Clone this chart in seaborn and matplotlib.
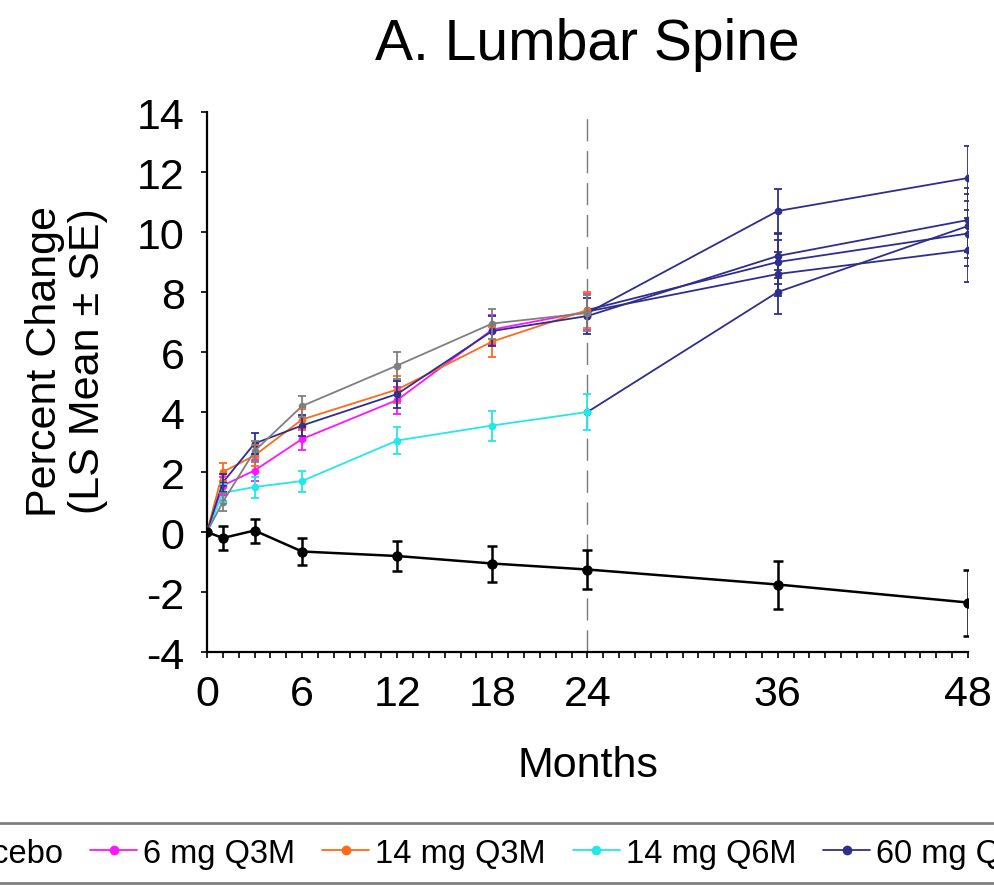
import matplotlib
matplotlib.use("Agg")
import matplotlib.pyplot as plt
from matplotlib.lines import Line2D
import numpy as np
import pandas as pd
import seaborn as sns

# ---- data: percent change in lumbar spine BMD (LS mean, SE) ----
placebo_months = [0, 1, 3, 6, 12, 18, 24, 36, 48]
placebo_mean = [0.0, -0.2, 0.05, -0.65, -0.8, -1.05, -1.25, -1.75, -2.35]
placebo_se = [0.0, 0.4, 0.4, 0.45, 0.5, 0.6, 0.65, 0.8, 1.1]

# first two years: original dose regimens
months_y2 = [0, 1, 3, 6, 12, 18, 24]
groups = ["6 mg Q3M", "14 mg Q3M", "14 mg Q6M", "60 mg Q6M", "100 mg Q6M"]
mean_6q3 = [0.0, 1.55, 2.05, 3.1, 4.4, 6.75, 7.35]
mean_14q3 = [0.0, 2.0, 2.55, 3.75, 4.75, 6.35, 7.4]
mean_14q6 = [0.0, 1.3, 1.5, 1.7, 3.05, 3.55, 4.0]
mean_60q6 = [0.0, 1.65, 2.95, 3.55, 4.6, 6.7, 7.2]
mean_100q6 = [0.0, 1.0, 2.7, 4.2, 5.55, 6.95, 7.3]
se_y2 = [0.0, 0.3, 0.35, 0.35, 0.45, 0.5, 0.6]

# years three and four: every group on 60 mg Q6M
months_y4 = [24, 36, 48]
ext_6q3 = [7.35, 8.6, 9.4]
ext_14q3 = [7.4, 9.0, 9.95]
ext_14q6 = [4.0, 8.0, 10.2]
ext_60q6 = [7.2, 9.2, 10.4]
ext_100q6 = [7.3, 10.7, 11.8]
se_y4 = [0.6, 0.72, 1.08]

group_colors = ["#ff14ff", "#ff6a1a", "#22e8e8", "#2e2e8e", "#7f7f7f"]
placebo_color = "#000000"
switch_color = "#2e2e8e"

tick_months = [0, 6, 12, 18, 24, 36, 48]
y_ticks = [-4, -2, 0, 2, 4, 6, 8, 10, 12, 14]

y2_means = [mean_6q3, mean_14q3, mean_14q6, mean_60q6, mean_100q6]
y4_means = [ext_6q3, ext_14q3, ext_14q6, ext_60q6, ext_100q6]

df_placebo = pd.DataFrame({"month": placebo_months, "change": placebo_mean})
df_y2 = pd.DataFrame(
    [(g, m, v) for g, vals in zip(groups, y2_means) for m, v in zip(months_y2, vals)],
    columns=["group", "month", "change"],
)
df_y4 = pd.DataFrame(
    [(g, m, v) for g, vals in zip(groups, y4_means) for m, v in zip(months_y4, vals)],
    columns=["group", "month", "change"],
)

sns.set_theme(style="ticks")
plt.rcParams["font.family"] = ["Liberation Sans", "DejaVu Sans"]
plt.rcParams.update({"text.color": "black", "axes.labelcolor": "black",
                     "xtick.color": "black", "ytick.color": "black"})

fig = plt.figure(figsize=(9.94, 8.87), dpi=100)
ax = fig.add_axes([0.2082, 0.2638, 0.7656, 0.6088])

# treatment switch at month 24
ax.axvline(24, color="#7a7a7a", lw=1.0, linestyle=(0, (16, 7)), zorder=1)

palette = dict(zip(groups, group_colors))

# years 3-4 (all on 60 mg Q6M)
sns.lineplot(data=df_y4, x="month", y="change", units="group", estimator=None,
             color=switch_color, marker="o", markersize=5.5, markeredgewidth=0,
             linewidth=1.3, ax=ax, legend=False, zorder=3)
for vals in y4_means:
    ax.errorbar(months_y4[1:], vals[1:], yerr=se_y4[1:], fmt="none",
                ecolor=switch_color, elinewidth=1.3, capsize=3, capthick=1.3, zorder=3)

# years 1-2
sns.lineplot(data=df_y2, x="month", y="change", hue="group", hue_order=groups,
             palette=palette, marker="o", markersize=5.5, markeredgewidth=0,
             linewidth=1.3, ax=ax, legend=False, zorder=4)
for vals, c in zip(y2_means, group_colors):
    ax.errorbar(months_y2[1:], vals[1:], yerr=se_y2[1:], fmt="none",
                ecolor=c, elinewidth=1.3, capsize=3, capthick=1.3, zorder=4)

# placebo
sns.lineplot(data=df_placebo, x="month", y="change", color=placebo_color,
             marker="o", markersize=7.5, markeredgewidth=0, linewidth=1.8,
             ax=ax, legend=False, zorder=5)
ax.errorbar(placebo_months[1:], placebo_mean[1:], yerr=placebo_se[1:], fmt="none",
            ecolor=placebo_color, elinewidth=1.8, capsize=3.5, capthick=1.8, zorder=5)

# axes
ax.set_xlim(0, 48)
ax.set_ylim(-4, 14)
ax.set_xticks(tick_months)
ax.set_xticks(np.arange(0, 49, 1), minor=True)
ax.set_yticks(y_ticks)
ax.set_yticklabels([str(v) for v in y_ticks])
ax.tick_params(axis="both", which="major", labelsize=31, length=4, width=1.2,
               direction="out", color="black", pad=12)
ax.tick_params(axis="x", which="minor", length=4, width=1.2, direction="out")
for side in ["top", "right"]:
    ax.spines[side].set_visible(False)
for side in ["left", "bottom"]:
    ax.spines[side].set_linewidth(1.6)
    ax.spines[side].set_color("black")

ax.set_xlabel("Months", fontsize=31, labelpad=22)
ax.set_ylabel("Percent Change\n(LS Mean \u00b1 SE)", fontsize=31, linespacing=1.1)
ax.yaxis.set_label_coords(-0.13, 0.54)
ax.set_title("A. Lumbar Spine", fontsize=41, pad=38)

# legend along the bottom
handles = [Line2D([], [], color=placebo_color, lw=1.8, marker="o", markersize=7,
                  markeredgewidth=0)]
labels = ["Placebo"]
for g, c in zip(groups, group_colors):
    handles.append(Line2D([], [], color=c, lw=1.3, marker="o", markersize=7,
                          markeredgewidth=0))
    labels.append(g)
leg = fig.legend(handles, labels, loc="center left", bbox_to_anchor=(-0.123, 0.0372),
                 ncol=len(labels), fontsize=23.5, handlelength=1.44, handletextpad=0.18,
                 columnspacing=0.83, borderpad=0.45, borderaxespad=0, frameon=True,
                 fancybox=False, framealpha=1)
leg.get_frame().set_edgecolor("#808080")
leg.get_frame().set_linewidth(2.0)

fig.savefig("out.png", dpi=100)
